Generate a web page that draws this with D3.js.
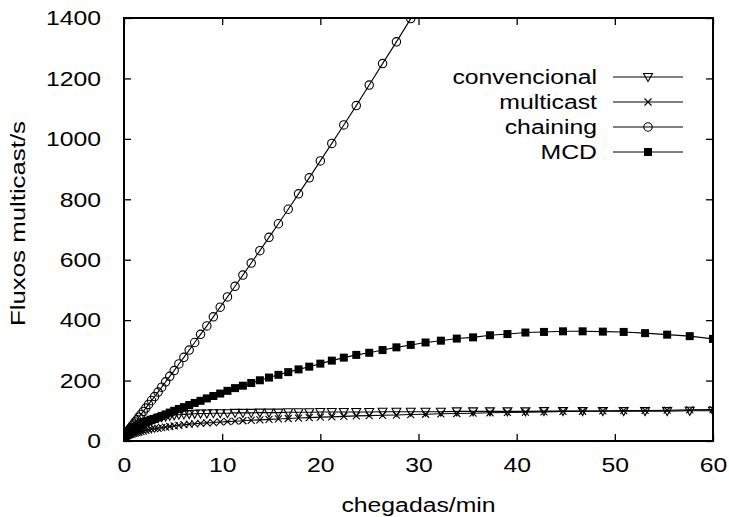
<!DOCTYPE html>
<html>
<head>
<meta charset="utf-8">
<script src="https://cdn.jsdelivr.net/npm/d3@7"></script>
<style>
  body { margin: 0; background: #fff; }
  svg text { font-family: "Liberation Sans", Arial, Helvetica, sans-serif; fill: #000; }
</style>
</head>
<body>
<svg id="chart" width="729" height="517"></svg>
<script>
(function () {
  "use strict";

  // x positions of the plotted points (chegadas/min)
  const X_VALUES = [
    0.02, 0.03, 0.05, 0.07, 0.10, 0.14, 0.19, 0.25, 0.31, 0.39,
    0.48, 0.58, 0.70, 0.83, 0.98, 1.14, 1.32, 1.51, 1.73, 1.97,
    2.22, 2.50, 2.80, 3.12, 3.47, 3.84, 4.24, 4.66, 5.11, 5.59,
    6.10, 6.64, 7.20, 7.80, 8.44, 9.10, 9.80, 10.54, 11.31, 12.11,
    12.96, 13.84, 14.77, 15.73, 16.73, 17.78, 18.87, 20.00, 21.17, 22.39,
    23.66, 24.98, 26.34, 27.75, 29.21, 30.72, 32.28, 33.90, 35.56, 37.28,
    39.06, 40.89, 42.78, 44.72, 46.72, 48.78, 50.90, 53.08, 55.33, 57.63,
    60.00
  ];

  const CONVENCIONAL = [
    15.5, 16, 16, 17, 18, 19, 20, 22, 23, 25,
    27, 30, 33, 36, 40, 43, 47, 51, 55, 59,
    63, 66, 70, 73, 76, 79, 81, 83, 85, 87,
    88, 89, 90, 91, 91, 92, 92, 92, 93, 93,
    93, 94, 94, 94, 95, 95, 95, 96, 96, 96,
    96, 96, 97, 97, 97, 97, 97, 98, 98, 98,
    98, 98, 99, 99, 99, 99, 99, 99, 99, 100,
    100
  ];

  const MULTICAST = [
    15, 15, 15.5, 16, 16, 16.5, 17, 17.5, 18, 19,
    20, 21, 22, 23.5, 25, 26, 28, 29, 31, 33,
    35, 37, 39, 41, 42, 44, 46, 48, 50, 52,
    54, 56, 57, 58.5, 60, 61, 63, 64, 65.5, 67,
    68.5, 70, 71.5, 73, 74.5, 76, 77.5, 79, 80, 81.5,
    83, 84, 85, 86, 87.5, 88.5, 90, 91, 92, 93.5,
    94.5, 95.5, 96.5, 98, 98.5, 99.5, 100.5, 101, 102, 103,
    104
  ];

  // chaining leaves the plot above 1400, so only the first points are kept
  const CHAINING = [
    16, 16, 17, 18, 19, 21, 23, 25, 28, 31,
    35, 39, 44, 50, 56, 63, 70, 79, 88, 98,
    109, 121, 134, 147, 162, 178, 196, 214, 233, 255,
    277, 301, 326, 353, 381, 411, 443, 477, 512, 549,
    589, 630, 674, 719, 767, 818, 871, 927, 985, 1046,
    1110, 1178, 1249, 1321, 1398, 1477
  ];

  const MCD = [
    15, 16, 16, 17, 17, 18, 19, 21, 22, 24,
    26, 28, 31, 34, 37, 40, 44, 48, 52, 57,
    61, 65, 69, 73, 78, 83, 88, 94, 100, 106,
    112, 119, 126, 133, 141, 149, 157, 166, 175, 183,
    192, 201, 210, 219, 228, 237, 246, 256, 266, 276,
    285, 292, 301, 310, 318, 326, 332, 339, 343, 350,
    354, 359, 361, 363, 363, 362, 361, 357, 352, 347,
    338
  ];

  const SERIES_NAMES = ["convencional", "multicast", "chaining", "MCD"];
  const SERIES_MARKERS = ["triangle", "cross", "circle", "square"];
  const X_TICKS = [0, 10, 20, 30, 40, 50, 60];
  const Y_TICKS = [0, 200, 400, 600, 800, 1000, 1200, 1400];
  const X_TITLE = "chegadas/min";
  const Y_TITLE = "Fluxos multicast/s";

  const WIDTH = 729;
  const HEIGHT = 517;
  const MARGIN = { top: 18, right: 16, bottom: 76, left: 124 };
  const TICK_LEN = 7;
  const FONT_SIZE = 21;
  const STRETCH = 1.18;

  const innerW = WIDTH - MARGIN.left - MARGIN.right;
  const innerH = HEIGHT - MARGIN.top - MARGIN.bottom;

  const svg = d3.select("#chart");

  const x = d3.scaleLinear().domain([0, 60]).range([0, innerW]);
  const y = d3.scaleLinear().domain([0, 1400]).range([innerH, 0]);

  const root = svg
    .append("g")
    .attr("transform", `translate(${MARGIN.left},${MARGIN.top})`);

  root
    .append("clipPath")
    .attr("id", "plot-clip")
    .append("rect")
    .attr("x", 0)
    .attr("y", 0)
    .attr("width", innerW)
    .attr("height", innerH);

  function styleAxis(g) {
    g.select(".domain").remove();
    g.selectAll(".tick line").attr("stroke", "#000").attr("stroke-width", 1.3);
    g.selectAll(".tick text")
      .attr("font-size", FONT_SIZE)
      .attr("font-family", null)
      .attr("fill", "#000");
  }

  // widen tick labels like the scanned original; x is divided so the anchor stays put
  function stretchTicks(g) {
    g.selectAll(".tick text").each(function () {
      const t = d3.select(this);
      const tx = Number(t.attr("x")) || 0;
      t.attr("x", tx / STRETCH).attr("transform", `scale(${STRETCH},1)`);
    });
  }

  root
    .append("g")
    .attr("transform", `translate(0,${innerH})`)
    .call(
      d3.axisBottom(x)
        .tickValues(X_TICKS)
        .tickFormat(d3.format("d"))
        .tickSizeInner(-TICK_LEN)
        .tickSizeOuter(0)
        .tickPadding(16)
    )
    .call(styleAxis)
    .call(stretchTicks);

  root
    .append("g")
    .call(
      d3.axisLeft(y)
        .tickValues(Y_TICKS)
        .tickFormat(d3.format("d"))
        .tickSizeInner(-TICK_LEN)
        .tickSizeOuter(0)
        .tickPadding(23)
    )
    .call(styleAxis)
    .call(stretchTicks);

  // mirrored ticks on top and right
  root
    .append("g")
    .call(d3.axisTop(x).tickValues(X_TICKS).tickSizeInner(-TICK_LEN).tickSizeOuter(0).tickFormat(""))
    .call(styleAxis);

  root
    .append("g")
    .attr("transform", `translate(${innerW},0)`)
    .call(d3.axisRight(y).tickValues(Y_TICKS).tickSizeInner(-TICK_LEN).tickSizeOuter(0).tickFormat(""))
    .call(styleAxis);

  root
    .append("rect")
    .attr("x", 0)
    .attr("y", 0)
    .attr("width", innerW)
    .attr("height", innerH)
    .attr("fill", "none")
    .attr("stroke", "#000")
    .attr("stroke-width", 2);

  function stretchedText(parent, px, py, text, anchor, rotate, stretch) {
    const g = parent
      .append("g")
      .attr(
        "transform",
        `translate(${px},${py})` + (rotate ? ` rotate(${rotate})` : "") + ` scale(${stretch || STRETCH},1)`
      );
    return g
      .append("text")
      .attr("text-anchor", anchor)
      .attr("font-size", FONT_SIZE)
      .text(text);
  }

  stretchedText(svg, MARGIN.left + innerW / 2, 512, X_TITLE, "middle", 0);
  stretchedText(svg, 25, MARGIN.top + innerH / 2 - 6, Y_TITLE, "middle", -90, 1.23);

  function drawMarker(g, type, cx, cy) {
    if (type === "triangle") {
      g.append("path")
        .attr("d", `M${cx - 4.5},${cy - 3.5}L${cx + 4.5},${cy - 3.5}L${cx},${cy + 4.5}Z`)
        .attr("fill", "none")
        .attr("stroke", "#000")
        .attr("stroke-width", 1.1);
    } else if (type === "cross") {
      g.append("path")
        .attr("d", `M${cx - 3.5},${cy - 3.5}L${cx + 3.5},${cy + 3.5}M${cx - 3.5},${cy + 3.5}L${cx + 3.5},${cy - 3.5}`)
        .attr("fill", "none")
        .attr("stroke", "#000")
        .attr("stroke-width", 1.1);
    } else if (type === "circle") {
      g.append("circle")
        .attr("cx", cx)
        .attr("cy", cy)
        .attr("r", 4.2)
        .attr("fill", "none")
        .attr("stroke", "#000")
        .attr("stroke-width", 1.1);
    } else {
      g.append("rect")
        .attr("x", cx - 4)
        .attr("y", cy - 4)
        .attr("width", 8)
        .attr("height", 8)
        .attr("fill", "#000");
    }
  }

  const seriesValues = [CONVENCIONAL, MULTICAST, CHAINING, MCD];
  const line = d3
    .line()
    .x((d) => x(d[0]))
    .y((d) => y(d[1]));

  const dataLayer = root.append("g").attr("clip-path", "url(#plot-clip)");

  seriesValues.forEach((values, i) => {
    const points = values.map((v, k) => [X_VALUES[k], v]);
    const g = dataLayer.append("g").attr("class", "series-" + SERIES_NAMES[i]);
    g.append("path")
      .datum(points)
      .attr("d", line)
      .attr("fill", "none")
      .attr("stroke", "#000")
      .attr("stroke-width", 1.1);
    points.forEach((p) => drawMarker(g, SERIES_MARKERS[i], x(p[0]), y(p[1])));
  });

  // legend
  const legend = svg.append("g").attr("class", "legend");
  SERIES_NAMES.forEach((name, i) => {
    const ly = 77 + i * 25;
    stretchedText(legend, 597, ly + 7, name, "end", 0);
    legend
      .append("line")
      .attr("x1", 613)
      .attr("x2", 683)
      .attr("y1", ly)
      .attr("y2", ly)
      .attr("stroke", "#000")
      .attr("stroke-width", 1);
    drawMarker(legend, SERIES_MARKERS[i], 648, ly);
  });
})();
</script>
</body>
</html>
